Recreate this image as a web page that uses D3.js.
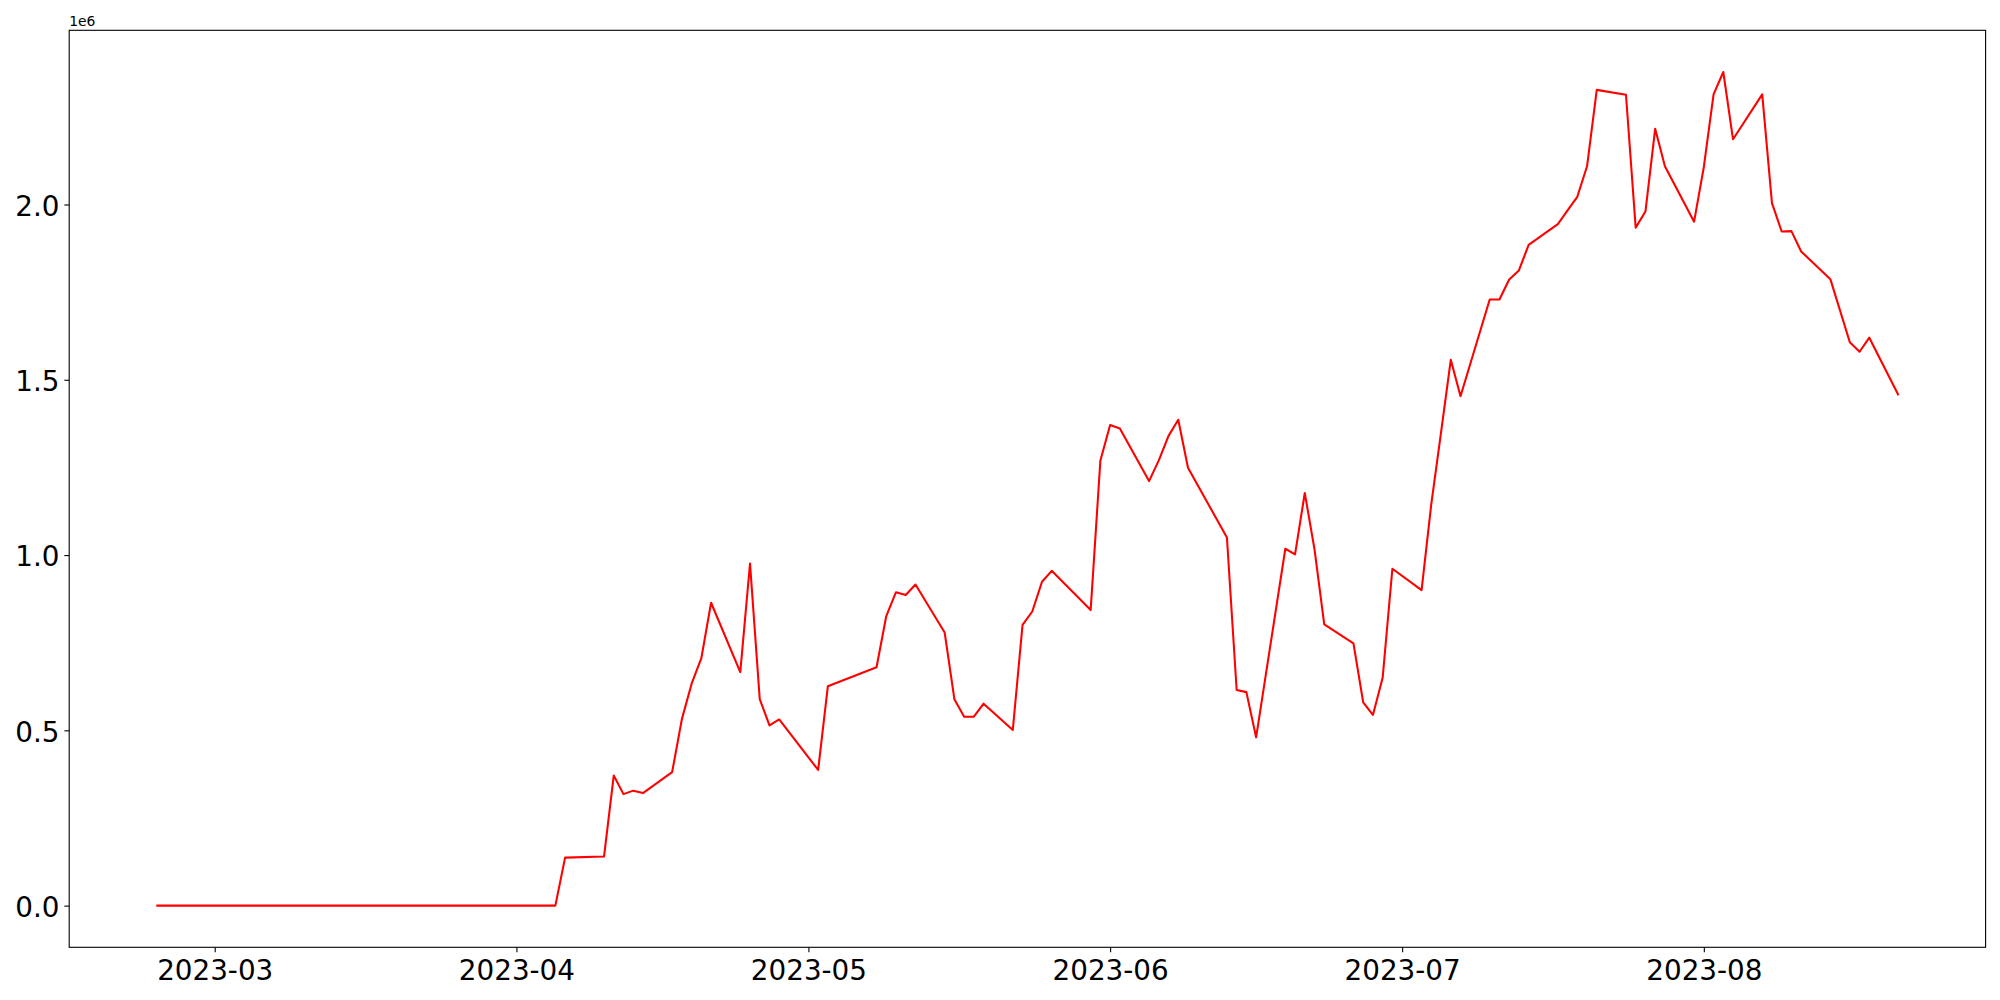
<!DOCTYPE html>
<html>
<head>
<meta charset="utf-8">
<script src="https://cdn.jsdelivr.net/npm/d3@7"></script>
<style>
  body { margin: 0; background: #fff; }
  text { font-family: "DejaVu Sans", sans-serif; }
</style>
</head>
<body>
<div id="chart"></div>
<script>
// trading days that show up as vertices on the line
var dates = [
  "2023-02-23", "2023-04-05", "2023-04-06", "2023-04-10", "2023-04-11", "2023-04-12",
  "2023-04-13", "2023-04-14", "2023-04-17", "2023-04-18", "2023-04-19", "2023-04-20",
  "2023-04-21", "2023-04-24", "2023-04-25", "2023-04-26", "2023-04-27", "2023-04-28",
  "2023-05-02", "2023-05-03", "2023-05-08", "2023-05-09", "2023-05-10", "2023-05-11",
  "2023-05-12", "2023-05-15", "2023-05-16", "2023-05-17", "2023-05-18", "2023-05-19",
  "2023-05-22", "2023-05-23", "2023-05-24", "2023-05-25", "2023-05-26", "2023-05-30",
  "2023-05-31", "2023-06-01", "2023-06-02", "2023-06-05", "2023-06-06", "2023-06-07",
  "2023-06-08", "2023-06-09", "2023-06-13", "2023-06-14", "2023-06-15", "2023-06-16",
  "2023-06-19", "2023-06-20", "2023-06-21", "2023-06-22", "2023-06-23", "2023-06-26",
  "2023-06-27", "2023-06-28", "2023-06-29", "2023-06-30", "2023-07-03", "2023-07-04",
  "2023-07-05", "2023-07-06", "2023-07-07", "2023-07-10", "2023-07-11", "2023-07-12",
  "2023-07-13", "2023-07-14", "2023-07-17", "2023-07-18", "2023-07-19", "2023-07-20",
  "2023-07-21", "2023-07-24", "2023-07-25", "2023-07-26", "2023-07-27", "2023-07-28",
  "2023-07-31", "2023-08-01", "2023-08-02", "2023-08-03", "2023-08-04", "2023-08-07",
  "2023-08-08", "2023-08-09", "2023-08-10", "2023-08-11", "2023-08-14", "2023-08-16",
  "2023-08-17", "2023-08-18", "2023-08-21"
];

var values = [
  0, 0, 137000, 140000, 371000, 318000,
  328000, 321000, 381000, 532000, 633000, 706000,
  864000, 666000, 976000, 589000, 514000, 531000,
  387000, 626000, 680000, 826000, 894000, 886000,
  916000, 779000, 589000, 539000, 539000, 576000,
  501000, 801000, 839000, 924000, 955000, 843000,
  1270000, 1371000, 1361000, 1211000, 1270000, 1340000,
  1386000, 1249000, 1050000, 615000, 609000, 480000,
  1018000, 1002000, 1177000, 1016000, 802000, 748000,
  580000, 544000, 650000, 961000, 900000, 1146000,
  1350000, 1557000, 1453000, 1729000, 1729000, 1786000,
  1812000, 1885000, 1944000, 1983000, 2022000, 2109000,
  2327000, 2313000, 1934000, 1980000, 2216000, 2109000,
  1951000, 2107000, 2314000, 2378000, 2186000, 2314000,
  2004000, 1923000, 1924000, 1866000, 1787000, 1607000,
  1580000, 1620000, 1456000
];

var yTicks = [0, 500000, 1000000, 1500000, 2000000];

var W = 2000, H = 1000;
var mrg = { top: 30.3, right: 14.4, bottom: 52.7, left: 69.2 },
    width = W - mrg.left - mrg.right,
    height = H - mrg.top - mrg.bottom;

var parse = d3.utcParse("%Y-%m-%d");
var data = dates.map(function(d, i) { return { date: parse(d), value: values[i] }; });

var svg = d3.select("#chart")
  .append("svg")
  .attr("width", W)
  .attr("height", H);

var chart = svg.append("g")
  .attr("transform", `translate(${mrg.left}, ${mrg.top})`);

// matplotlib style 5% margins on both axes
var xExt = d3.extent(data, function(d) { return d.date; });
var xPad = (xExt[1] - xExt[0]) * 0.05;
var xScale = d3.scaleUtc()
  .domain([new Date(+xExt[0] - xPad), new Date(+xExt[1] + xPad)])
  .range([0, width]);

var yExt = d3.extent(data, function(d) { return d.value; });
var yPad = (yExt[1] - yExt[0]) * 0.05;
var yScale = d3.scaleLinear()
  .domain([yExt[0] - yPad, yExt[1] + yPad])
  .range([height, 0]);

var tickLen = 4.86, tickPad = 4.86, fontPx = 27.8;

var x_axis = d3.axisBottom(xScale)
  .ticks(d3.utcMonth.every(1))
  .tickFormat(d3.utcFormat("%Y-%m"))
  .tickSize(tickLen)
  .tickPadding(tickPad);

var y_axis = d3.axisLeft(yScale)
  .tickValues(yTicks)
  .tickFormat(function(d) { return (d / 1e6).toFixed(1); })
  .tickSize(tickLen)
  .tickPadding(tickPad);

var gx = chart.append("g")
  .attr("transform", `translate(0, ${height})`)
  .call(x_axis);
gx.select(".domain").remove();
gx.selectAll(".tick line").attr("stroke", "#000").attr("stroke-width", 1.1);
gx.selectAll(".tick text")
  .attr("fill", "#000")
  .attr("y", 12.6)
  .style("font-size", fontPx + "px");

var gy = chart.append("g")
  .call(y_axis);
gy.select(".domain").remove();
gy.selectAll(".tick line").attr("stroke", "#000").attr("stroke-width", 1.1);
gy.selectAll(".tick text")
  .attr("fill", "#000")
  .attr("dy", "0.385em")
  .style("font-size", fontPx + "px");

// the line itself
var line = d3.line()
  .x(function(d) { return xScale(d.date); })
  .y(function(d) { return yScale(d.value); });

chart.append("path")
  .datum(data)
  .attr("fill", "none")
  .attr("stroke", "#ff0000")
  .attr("stroke-width", 2.08)
  .attr("stroke-linejoin", "round")
  .attr("d", line);

// frame
chart.append("rect")
  .attr("x", 0)
  .attr("y", 0)
  .attr("width", width)
  .attr("height", height)
  .attr("fill", "none")
  .attr("stroke", "#000")
  .attr("stroke-width", 1.1);

// offset label
chart.append("text")
  .attr("x", 0)
  .attr("y", -4.5)
  .style("font-size", "13.9px")
  .attr("fill", "#000")
  .text("1e6");
</script>
</body>
</html>
